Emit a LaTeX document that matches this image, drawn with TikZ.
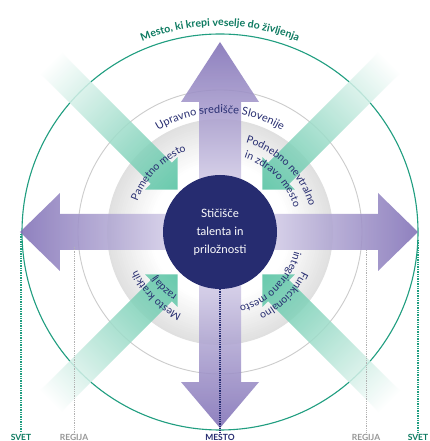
\documentclass[tikz,border=0pt]{standalone}
\usepackage{fontspec}
\setmainfont{Lato}
\setsansfont{Lato}
\usetikzlibrary{decorations.text}

\definecolor{navy}{RGB}{38,44,112}
\definecolor{lilac}{RGB}{128,112,182}
\definecolor{lilacpale}{RGB}{238,235,247}
\definecolor{mint}{RGB}{78,192,158}
\definecolor{rimgreen}{RGB}{32,158,128}
\definecolor{darkrim}{RGB}{12,122,96}
\definecolor{regiongray}{RGB}{150,150,150}

\begin{document}
\begin{tikzpicture}[x=1pt, y=1pt, font=\sffamily]
  \tikzstyle{arctext} = [decorate, decoration={text along path, text align=center, text color=navy}]
  \tikzstyle{bigarrow} = [opacity=0.88]
  \tikzstyle{smallarrow} = [left color=mint, right color=white, opacity=0.85]
  \tikzstyle{scale label} = [font=\sffamily\bfseries\fontsize{8.5}{9}\selectfont, inner sep=1pt]
  \tikzstyle{svetline} = [rimgreen, line width=1.4pt, densely dotted]
  \tikzstyle{regijaline} = [black!30, line width=0.8pt, densely dotted]
  \tikzstyle{mestoline} = [navy, line width=1.2pt, densely dotted]

  \fill[white] (-220,-209) rectangle (210,232);
  \useasboundingbox (-220,-209) rectangle (210,232);

  \foreach \k in {0,...,22} {
    \pgfmathsetmacro{\ringr}{113-2*\k}
    \pgfmathsetmacro{\ringg}{12*(1-\k/22)}
    \fill[black!\ringg] (0,0) circle (\ringr);
  }
  \draw[black!20, line width=0.9pt] (0,0) circle (142);
  \draw[rimgreen, line width=1.1pt] (0,0) circle (198);

  \shade[bigarrow, left color=lilacpale, right color=lilac] (0,-18) -- (158,-18) -- (158,-39) -- (198,0) -- (158,39) -- (158,18) -- (0,18) -- cycle;
  \shade[bigarrow, left color=lilac, right color=lilacpale] (0,-18) -- (-160,-18) -- (-160,-39) -- (-200,0) -- (-160,39) -- (-160,18) -- (0,18) -- cycle;
  \shade[bigarrow, top color=lilac, bottom color=lilacpale] (-21,0) -- (-21,130) -- (-39,130) -- (0,190) -- (39,130) -- (21,130) -- (21,0) -- cycle;
  \shade[bigarrow, bottom color=lilac, top color=lilacpale] (-21,0) -- (-21,-150) -- (-39,-150) -- (0,-196) -- (39,-150) -- (21,-150) -- (21,0) -- cycle;

  \foreach \a in {45,135,225,315}
    \shade[smallarrow, transform canvas={rotate=\a}] (60,0) -- (83,23) -- (83,15) -- (240,15) -- (240,-15) -- (83,-15) -- (83,-23) -- cycle;

  \path[arctext, decoration={text color=darkrim, text={|\fontsize{10.5}{12}\selectfont\bfseries|Mesto, ki krepi veselje do življenja}}] (130:206) arc[start angle=130, end angle=50, radius=206];
  \path[arctext, decoration={text={|\fontsize{11}{12}\selectfont|Upravno središče Slovenije}}] (140:119) arc[start angle=140, end angle=40, radius=119];
  \path[arctext, decoration={text={|\fontsize{10.5}{12}\selectfont|Pametno mesto}}] (181:88) arc[start angle=181, end angle=91, radius=88];
  \path[arctext, decoration={text={|\fontsize{10.5}{12}\selectfont|Podnebno nevtralno}}] (90:93) arc[start angle=90, end angle=0, radius=93];
  \path[arctext, decoration={text={|\fontsize{10.5}{12}\selectfont|in zdravo mesto}}] (95:78) arc[start angle=95, end angle=-5, radius=78];
  \path[arctext, decoration={text={|\fontsize{10.5}{12}\selectfont|Mesto kratkih}}] (270:91) arc[start angle=270, end angle=180, radius=91];
  \path[arctext, decoration={text={|\fontsize{10.5}{12}\selectfont|razdalj}}] (275:77) arc[start angle=275, end angle=175, radius=77];
  \path[arctext, decoration={text={|\fontsize{10.5}{12}\selectfont|Funkcionalno}}] (360:91) arc[start angle=360, end angle=270, radius=91];
  \path[arctext, decoration={text={|\fontsize{10.5}{12}\selectfont|integrirano mesto}}] (5:77) arc[start angle=5, end angle=-95, radius=77];

  \node[circle, fill=navy, minimum size=114pt, inner sep=0pt, text=white, align=center,
        font=\sffamily\fontsize{11.5}{18}\selectfont] (hub) at (0,0) {Stičišče\\talenta in\\priložnosti};

  \node[scale label, text=darkrim] (svetL) at (-199,-205) {SVET};
  \node[scale label, text=regiongray] (regijaL) at (-146,-205) {REGIJA};
  \node[scale label, text=navy] (mesto) at (0,-205) {MESTO};
  \node[scale label, text=regiongray] (regijaR) at (146,-205) {REGIJA};
  \node[scale label, text=darkrim] (svetR) at (198,-205) {SVET};

  \coordinate (rimL) at (-199,-2);
  \coordinate (rimR) at (198,-8);
  \coordinate (greyL) at (-146,-15);
  \coordinate (greyR) at (146,-18);

  \draw[svetline] (rimL) -- (svetL.north);
  \draw[svetline] (rimR) -- (svetR.north);
  \draw[regijaline] (greyL) -- (regijaL.north);
  \draw[regijaline] (greyR) -- (regijaR.north);
  \draw[mestoline] (hub.south) -- (mesto.north);
\end{tikzpicture}
\end{document}
